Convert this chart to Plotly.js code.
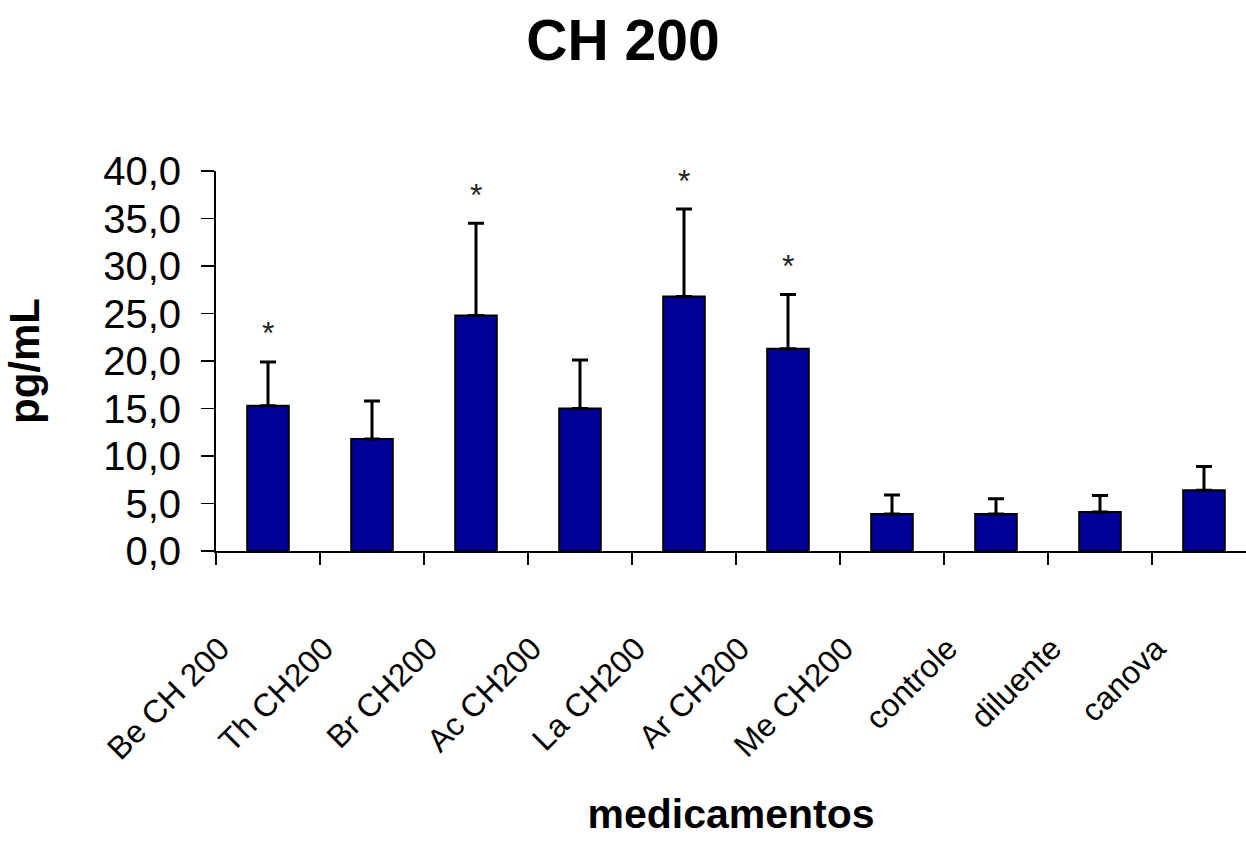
<!DOCTYPE html>
<html>
<head>
<meta charset="utf-8">
<script src="https://cdn.plot.ly/plotly-3.0.1.min.js"></script>
<style>html,body{margin:0;padding:0;background:#fff}#chart{width:1246px;height:845px}</style>
</head>
<body>
<div id="chart"></div>
<script>
var categories = ["Be CH 200", "Th CH200", "Br CH200", "Ac CH200", "La CH200", "Ar CH200", "Me CH200", "controle", "diluente", "canova"];
var means = [15.3, 11.8, 24.8, 15.0, 26.8, 21.3, 3.9, 3.9, 4.1, 6.4];
var sdUpper = [4.6, 4.0, 9.7, 5.1, 9.2, 5.7, 2.0, 1.6, 1.75, 2.5];
var significant = [true, false, true, false, true, true, false, false, false, false];

var FONT = "Liberation Sans, Arial, sans-serif";
var starOffset = 3.0;

var trace = {
  type: "bar",
  x: categories,
  y: means,
  marker: {color: "#000096", line: {color: "#000000", width: 2}},
  error_y: {type: "data", symmetric: false, array: sdUpper, arrayminus: sdUpper.map(function(){return 0;}),
            color: "#000000", thickness: 3, width: 8},
  hoverinfo: "x+y"
};

var annotations = [];
categories.forEach(function(c, i){
  if (significant[i]) {
    annotations.push({x: c, y: means[i] + sdUpper[i] + starOffset, xref: "x", yref: "y",
      text: "*", showarrow: false, yanchor: "middle", font: {family: FONT, size: 32, color: "#222"}});
  }
});

var layout = {
  width: 1246, height: 845,
  margin: {l: 216, r: 0, t: 171, b: 294, pad: 0},
  paper_bgcolor: "#ffffff", plot_bgcolor: "#ffffff",
  separators: ",.",
  showlegend: false,
  bargap: 0.6,
  title: {text: "<b>CH 200</b>", x: 0.5, xanchor: "center", y: 0.953, yanchor: "middle",
          font: {family: FONT, size: 57, color: "#000"}},
  xaxis: {
    type: "category",
    range: [-0.5, 9.404],
    showline: true, linecolor: "#000", linewidth: 2,
    ticks: "outside", tickson: "boundaries", ticklen: 12, tickwidth: 1.5, tickcolor: "#000",
    tickangle: -45,
    tickfont: {family: FONT, size: 32, color: "#000"},
    ticklabelshift: -48, ticklabelstandoff: 64,
    showgrid: false, zeroline: false,
    title: {text: "<b>medicamentos</b>", font: {family: FONT, size: 41, color: "#000"}, standoff: 34}
  },
  yaxis: {
    range: [0, 40], dtick: 5, tick0: 0,
    tickformat: ".1f",
    showline: true, linecolor: "#000", linewidth: 2,
    ticks: "outside", ticklen: 13, tickwidth: 1.5, tickcolor: "#000",
    tickfont: {family: FONT, size: 40, color: "#000"},
    ticklabelstandoff: 12,
    showgrid: false, zeroline: false,
    title: {text: "<b>pg/mL</b>", font: {family: FONT, size: 42, color: "#000"}, standoff: 50}
  },
  annotations: annotations
};

Plotly.newPlot("chart", [trace], layout, {displayModeBar: false, staticPlot: true});
</script>
</body>
</html>
